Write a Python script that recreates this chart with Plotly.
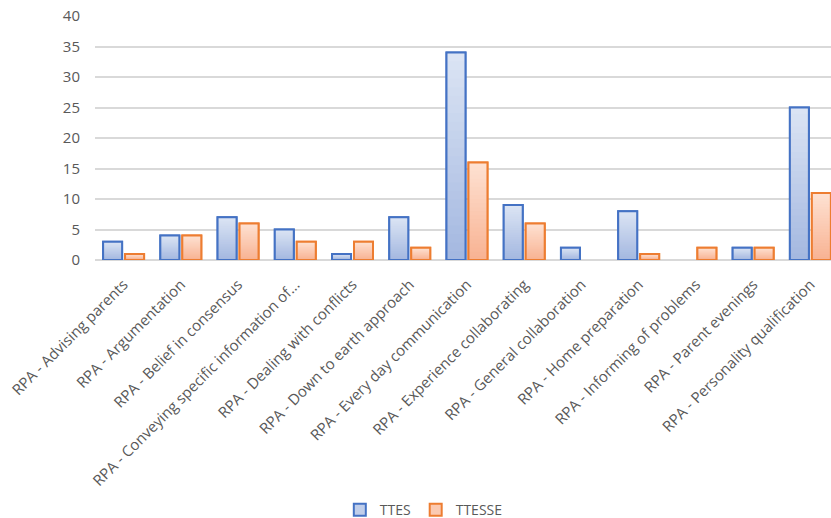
import plotly.graph_objects as go

categories = [
    "RPA - Advising parents",
    "RPA - Argumentation",
    "RPA - Belief in consensus",
    "RPA - Conveying specific information of...",
    "RPA - Dealing with conflicts",
    "RPA - Down to earth approach",
    "RPA - Every day communication",
    "RPA - Experience collaborating",
    "RPA - General collaboration",
    "RPA - Home preparation",
    "RPA - Informing of problems",
    "RPA - Parent evenings",
    "RPA - Personality qualification",
]
ttes = [3, 4, 7, 5, 1, 7, 34, 9, 2, 8, 0, 2, 25]
ttesse = [1, 4, 6, 3, 3, 2, 16, 6, 0, 1, 2, 2, 11]

y_ticks = [0, 5, 10, 15, 20, 25, 30, 35, 40]

TEXT = "#595959"
FONT = "Open Sans"

# series styling: name, values, border, gradient top colour, gradient bottom colour, offset
series = [
    ("TTES", ttes, "#4472c4", (0xDC, 0xE5, 0xF4), (0xA3, 0xB7, 0xE0), -0.3585),
    ("TTESSE", ttesse, "#ed7d31", (0xFE, 0xE2, 0xD3), (0xF8, 0xB2, 0x92), 0.0255),
]
BAR_W = 0.332
STEPS = 24


def mix(c1, c2, t):
    return "rgb({},{},{})".format(*[round(a + (b - a) * t) for a, b in zip(c1, c2)])


def nz(vals):
    return [v if v else None for v in vals]


fig = go.Figure()

for name, vals, border, top, bottom, off in series:
    # base bar carries the legend entry
    fig.add_trace(go.Bar(
        x=categories, y=nz(vals), name=name, width=BAR_W, offset=off,
        marker=dict(color=mix(top, bottom, 0.5), line=dict(color=border, width=2)),
        showlegend=True, hoverinfo="skip",
    ))
    # stacked-down layers build a vertical gradient (light at top, darker at bottom)
    for k in range(STEPS):
        frac = 1 - k / STEPS
        fig.add_trace(go.Bar(
            x=categories, y=[v * frac if v else None for v in vals],
            width=BAR_W, offset=off,
            marker=dict(color=mix(top, bottom, (k + 0.5) / STEPS), line=dict(width=0)),
            showlegend=False, hoverinfo="skip",
        ))
    # outline on top
    fig.add_trace(go.Bar(
        x=categories, y=nz(vals), name=name, width=BAR_W, offset=off,
        marker=dict(color="rgba(0,0,0,0)", line=dict(color=border, width=2)),
        showlegend=False, hovertemplate="%{x}: %{y}<extra>" + name + "</extra>",
    ))

fig.update_layout(
    width=831, height=518,
    margin=dict(l=95, r=0, t=16, b=258),
    barmode="overlay",
    plot_bgcolor="white", paper_bgcolor="white",
    font=dict(family=FONT, color=TEXT, size=14),
    xaxis=dict(
        type="category", range=[-0.5, 12.36],
        tickangle=-45, tickfont=dict(size=15, color=TEXT),
        showgrid=False, showline=False, ticks="", automargin=False,
        ticklabelstandoff=12,
    ),
    yaxis=dict(
        range=[0, 40], tickvals=y_ticks, ticktext=[str(t) for t in y_ticks],
        tickfont=dict(size=15, color=TEXT),
        showgrid=True, gridcolor="#d9d9d9", gridwidth=1.5,
        zeroline=True, zerolinecolor="#d9d9d9", zerolinewidth=1.5,
        showline=False, ticks="", ticklabelstandoff=14, automargin=False,
    ),
    legend=dict(
        orientation="h", xref="container", yref="container",
        x=0.51, y=0.015, xanchor="center", yanchor="middle",
        font=dict(size=14, color=TEXT), itemwidth=30,
        traceorder="normal",
    ),
)

fig.write_html("out.html")
